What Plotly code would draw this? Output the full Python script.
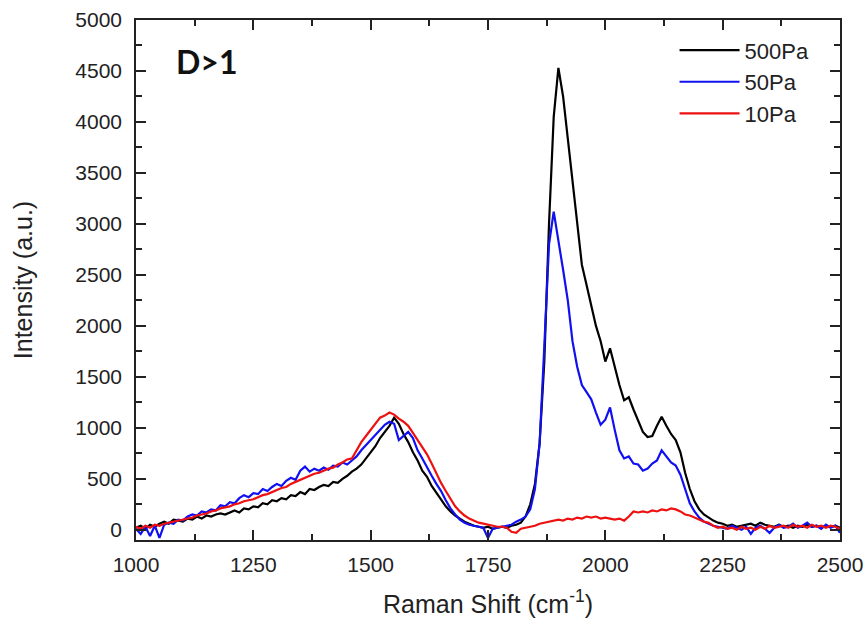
import plotly.graph_objects as go

# Raman shift grid (cm^-1), one sample every 10 cm^-1
shift = list(range(1000, 2501, 10))

# Intensity (a.u.) for each deposition pressure
i_500pa = [
    20, 40, 10, 50, 30, 60, 80, 60, 100, 90,
    80, 110, 100, 130, 110, 140, 130, 150, 160, 150,
    170, 190, 170, 210, 200, 230, 220, 260, 250, 290,
    280, 310, 300, 340, 330, 370, 350, 400, 390, 420,
    440, 430, 470, 460, 500, 530, 570, 600, 640, 700,
    760, 820, 900, 960, 1020, 1100, 1040, 940, 860, 760,
    680, 580, 520, 430, 360, 300, 230, 180, 140, 110,
    80, 60, 40, 30, 20, 30, 10, 20, 30, 20,
    40, 50, 70, 130, 250, 450, 850, 1650, 3000, 4050,
    4530, 4250, 3850, 3450, 3000, 2600, 2400, 2200, 2000, 1850,
    1650, 1780, 1600, 1420, 1270, 1300, 1180, 1060, 960, 910,
    920, 1020, 1110, 1020, 940, 880, 760, 560, 400, 280,
    200, 150, 120, 90, 70, 60, 40, 50, 30, 40,
    50, 60, 40, 70, 50, 40, 30, 50, 30, 40,
    20, 40, 30, 50, 30, 40, 20, 40, 30, 40,
    20,
]

i_50pa = [
    10, -40, 30, -60, 40, -80, 50, 70, 60, 100,
    90, 130, 150, 140, 180, 170, 200, 190, 240, 230,
    270, 260, 310, 340, 320, 360, 350, 400, 380, 420,
    450, 430, 480, 510, 490, 580, 620, 570, 600, 580,
    610, 590, 630, 620, 660, 640, 680, 720, 780, 830,
    870, 920, 980, 1030, 1060, 1040, 880, 920, 960, 900,
    780, 700, 610, 530, 450, 380, 290, 210, 150, 100,
    70, 50, 40, 30, 20, -80, 10, 20, 30, 40,
    50, 80, 100, 130, 200, 400, 850, 1800, 2800, 3120,
    2850, 2550, 2250, 1850, 1600, 1420, 1350, 1280, 1150, 1030,
    1080, 1200, 980, 780, 700, 720, 650, 640, 580, 600,
    650, 680, 780, 720, 660, 630, 540, 400, 260, 180,
    120, 80, 60, 40, 30, 20, 10, 40, 20, 0,
    30, -40, 20, 40, 10, -30, 20, 50, 20, 30,
    60, 20, 40, 70, 30, 40, 10, 50, 20, 40,
    -30,
]

i_10pa = [
    30, 10, 40, 20, 50, 40, 60, 70, 80, 90,
    100, 110, 120, 140, 150, 160, 180, 190, 210, 220,
    230, 250, 260, 280, 290, 300, 320, 340, 350, 370,
    390, 410, 420, 450, 470, 490, 510, 530, 550, 560,
    580, 600, 610, 640, 660, 690, 700, 780, 860, 920,
    980, 1050, 1100, 1120, 1150, 1130, 1090, 1060, 1020, 950,
    880, 800, 740, 650, 550, 460, 380, 300, 230, 180,
    140, 110, 90, 70, 60, 50, 40, 30, 30, 20,
    -20, -30, 10, 20, 30, 40, 60, 70, 80, 90,
    100, 90, 110, 100, 120, 110, 130, 120, 130, 110,
    120, 110, 100, 110, 90, 130, 180, 170, 180, 170,
    190, 180, 200, 190, 210, 200, 180, 150, 140, 120,
    100, 80, 70, 40, 20, 30, 10, 20, 0, 30,
    10, 20, 0, 30, 10, 40, 20, 30, 40, 20,
    50, 30, 40, 20, 50, 30, 40, 20, 40, 30,
    10,
]

series = [
    ("500Pa", i_500pa, "#000000"),
    ("50Pa", i_50pa, "#1010f0"),
    ("10Pa", i_10pa, "#ee1111"),
]

fig = go.Figure()
for name, vals, color in series:
    fig.add_trace(go.Scatter(
        x=shift, y=vals, name=name, mode="lines",
        line=dict(color=color, width=2.2),
    ))

axis_common = dict(
    showline=True, linecolor="#222", linewidth=1.6, mirror="ticks",
    ticks="inside", ticklen=10, tickwidth=1.6, tickcolor="#222",
    showgrid=False, zeroline=False, automargin=False,
    tickfont=dict(family="Liberation Sans", size=21, color="#222"),
    title_font=dict(family="Liberation Sans", size=25, color="#222"),
)

fig.update_xaxes(
    range=[1000, 2500], tickmode="linear", tick0=1000, dtick=250,
    minor=dict(tickmode="linear", tick0=1000, dtick=125, ticks="inside",
               ticklen=6, tickwidth=1.6, tickcolor="#222"),
    title_text="Raman Shift (cm<sup>-1</sup>)", title_standoff=20,
    ticklabelstandoff=5,
    **axis_common,
)
fig.update_yaxes(
    range=[-100, 5000], tickmode="linear", tick0=0, dtick=500,
    minor=dict(tickmode="linear", tick0=0, dtick=250, ticks="inside",
               ticklen=6, tickwidth=1.6, tickcolor="#222"),
    title_text="Intensity (a.u.)", title_standoff=36,
    ticklabelstandoff=8,
    **axis_common,
)

fig.add_annotation(
    text="<b>D>1</b>", x=0.1, y=0.92, xref="paper", yref="paper",
    xanchor="center", yanchor="middle",
    showarrow=False, font=dict(family="Lato", size=32, color="#111"),
)

fig.update_layout(
    width=867, height=621,
    margin=dict(l=136, r=27, t=20, b=81),
    paper_bgcolor="white", plot_bgcolor="white",
    showlegend=True,
    legend=dict(
        x=0.765, y=0.982, xanchor="left", yanchor="top",
        bgcolor="rgba(0,0,0,0)", itemwidth=60, tracegroupgap=0,
        font=dict(family="Liberation Sans", size=22, color="#222"),
    ),
)

fig.write_html("out.html")
